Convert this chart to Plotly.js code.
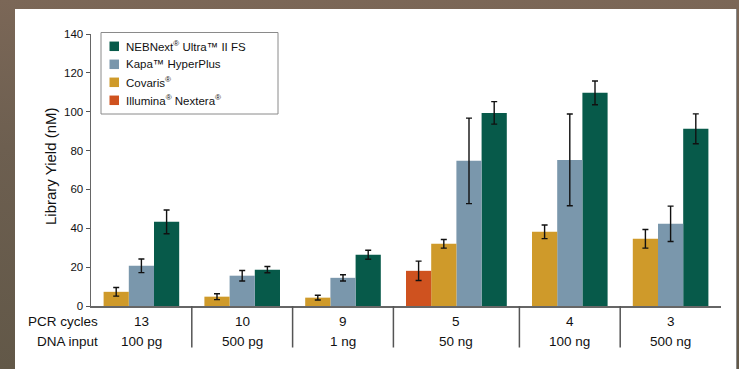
<!DOCTYPE html>
<html>
<head>
<meta charset="utf-8">
<script src="https://cdn.plot.ly/plotly-3.0.1.min.js"></script>
<style>
  html, body { margin: 0; padding: 0; }
  body { width: 739px; height: 369px; overflow: hidden; position: relative;
         background: linear-gradient(180deg, #7b6757 0%, #6d5f50 40%, #625848 100%); }
  #card { position: absolute; left: 15px; top: 9px; width: 721px; height: 360px;
          background: #ffffff; border-right: 1px solid #8a8a8a; }
  #chart { width: 721px; height: 360px; }
</style>
</head>
<body>
<div id="card"><div id="chart"></div></div>
<script>
// ---- data ----
const pcrCycles = ['13', '10', '9', '5', '4', '3'];
const dnaInput  = ['100 pg', '500 pg', '1 ng', '50 ng', '100 ng', '500 ng'];

// series in left-to-right order within each group
const illumina    = [null, null, null, 18.1, null, null];
const illuminaErr = [null, null, null, 5.0, null, null];
const covaris     = [7.3, 4.8, 4.3, 32.0, 38.2, 34.6];
const covarisErr  = [2.2, 1.5, 1.2, 2.2, 3.5, 4.8];
const kapa        = [20.7, 15.6, 14.5, 74.7, 75.2, 42.3];
const kapaErr     = [3.5, 2.7, 1.6, 22.0, 23.6, 9.1];
const neb         = [43.3, 18.7, 26.4, 99.4, 109.7, 91.2];
const nebErr      = [6.1, 1.6, 2.3, 5.8, 6.1, 7.7];

const seriesNames = ['Illumina<sup>®</sup> Nextera<sup>®</sup>', 'Covaris<sup>®</sup>',
                     'Kapa™ HyperPlus', 'NEBNext<sup>®</sup> Ultra™ II FS'];
const seriesVals  = [illumina, covaris, kapa, neb];
const seriesErrs  = [illuminaErr, covarisErr, kapaErr, nebErr];
const seriesColors = ['#cf521f', '#cf9a2a', '#7a97ac', '#075a4a'];

// ---- pixel helpers (plot area 630 x 272 px) ----
const PW = 630, PH = 272, PX0 = 91, PY0 = 34;
const px = x => (x - PX0) / PW;          // page x -> paper x
const py = y => 1 - (y - PY0) / PH;      // page y -> paper y

// ---- layout of groups (bar slots) ----
const nGroups = pcrCycles.length;
const groupStart = [], groupCenter = [], groupCount = [];
let cum = 0;
for (let g = 0; g < nGroups; g++) {
  const n = seriesVals.filter(s => s[g] !== null).length;
  groupCount.push(n);
  groupStart.push(cum);
  const w = n + 1;
  groupCenter.push(cum + w / 2);
  cum += w;
}
const totalUnits = cum;

const seriesX = seriesVals.map(() => []);
for (let g = 0; g < nGroups; g++) {
  let k = 0;
  const n = groupCount[g];
  seriesVals.forEach((s, si) => {
    if (s[g] !== null) {
      seriesX[si].push(groupCenter[g] + (k - (n - 1) / 2));
      k++;
    } else {
      seriesX[si].push(null);
    }
  });
}

const FONT = 'Liberation Sans, Arial, Helvetica, sans-serif';

const traces = [];
for (let si = seriesVals.length - 1; si >= 0; si--) {
  const xs = [], ys = [], es = [];
  seriesVals[si].forEach((v, g) => {
    if (v !== null) { xs.push(seriesX[si][g]); ys.push(v); es.push(seriesErrs[si][g]); }
  });
  traces.push({
    type: 'bar',
    name: seriesNames[si],
    x: xs, y: ys, width: 1,
    marker: { color: seriesColors[si], line: { width: 0 } },
    error_y: { type: 'data', array: es, visible: true, color: '#111111', thickness: 1.4, width: 3 },
    showlegend: false,
    hoverinfo: 'y'
  });
}

const annotations = [];
const shapes = [];
const lblFont = { family: FONT, size: 13.5, color: '#111' };

// category label rows
annotations.push({ text: 'PCR cycles', xref: 'paper', yref: 'paper', x: px(100), y: py(321.7),
  xanchor: 'right', yanchor: 'middle', showarrow: false, font: lblFont });
annotations.push({ text: 'DNA input', xref: 'paper', yref: 'paper', x: px(100), y: py(341),
  xanchor: 'right', yanchor: 'middle', showarrow: false, font: lblFont });
for (let g = 0; g < nGroups; g++) {
  annotations.push({ text: pcrCycles[g], xref: 'x', yref: 'paper', x: groupCenter[g], y: py(321.7),
    xanchor: 'center', yanchor: 'middle', showarrow: false, font: lblFont });
  annotations.push({ text: dnaInput[g], xref: 'x', yref: 'paper', x: groupCenter[g], y: py(341),
    xanchor: 'center', yanchor: 'middle', showarrow: false, font: lblFont });
}
// y title
annotations.push({ text: 'Library Yield (nM)', xref: 'paper', yref: 'paper', x: px(50), y: py(166),
  xanchor: 'center', yanchor: 'middle', textangle: -90, showarrow: false,
  font: { family: FONT, size: 15, color: '#111' } });

// dividers between groups
for (let g = 1; g < nGroups; g++) {
  shapes.push({ type: 'line', xref: 'paper', yref: 'paper',
    x0: groupStart[g] / totalUnits, x1: groupStart[g] / totalUnits, y0: 0, y1: py(347.5),
    line: { color: '#555555', width: 1.5 } });
}

// legend (drawn manually for exact compact layout): NEB, Kapa, Covaris, Illumina
shapes.push({ type: 'rect', xref: 'paper', yref: 'paper', x0: px(101), x1: px(278), y0: py(32.5), y1: py(114),
  line: { color: '#8a8a8a', width: 1 }, fillcolor: '#ffffff', layer: 'above' });
const legendOrder = [3, 2, 1, 0];
legendOrder.forEach((si, r) => {
  const cy = 46.3 + r * 18;
  shapes.push({ type: 'rect', xref: 'paper', yref: 'paper',
    x0: px(109.5), x1: px(119), y0: py(cy - 4.75), y1: py(cy + 4.75),
    line: { width: 0 }, fillcolor: seriesColors[si], layer: 'above' });
  annotations.push({ text: seriesNames[si], xref: 'paper', yref: 'paper', x: px(124), y: py(cy),
    xanchor: 'left', yanchor: 'middle', showarrow: false,
    font: { family: FONT, size: 11.5, color: '#111' } });
});

const layout = {
  width: 721, height: 360,
  margin: { l: 76, r: 15, t: 25, b: 63 },
  paper_bgcolor: '#ffffff', plot_bgcolor: '#ffffff',
  font: { family: FONT, color: '#111' },
  barmode: 'overlay',
  showlegend: false,
  xaxis: { range: [0, totalUnits], showticklabels: false, ticks: '', showgrid: false, zeroline: false,
    showline: true, linecolor: '#666666', linewidth: 1.5, fixedrange: true },
  yaxis: { range: [0, 140], dtick: 20, ticks: 'outside', ticklen: 4, tickwidth: 1, tickcolor: '#555555',
    showgrid: false, zeroline: false, showline: true, linecolor: '#666666', linewidth: 1.5,
    tickfont: { family: FONT, size: 11.5, color: '#111' }, fixedrange: true },
  annotations: annotations,
  shapes: shapes
};

Plotly.newPlot('chart', traces, layout, { displayModeBar: false, staticPlot: true });
</script>
</body>
</html>
